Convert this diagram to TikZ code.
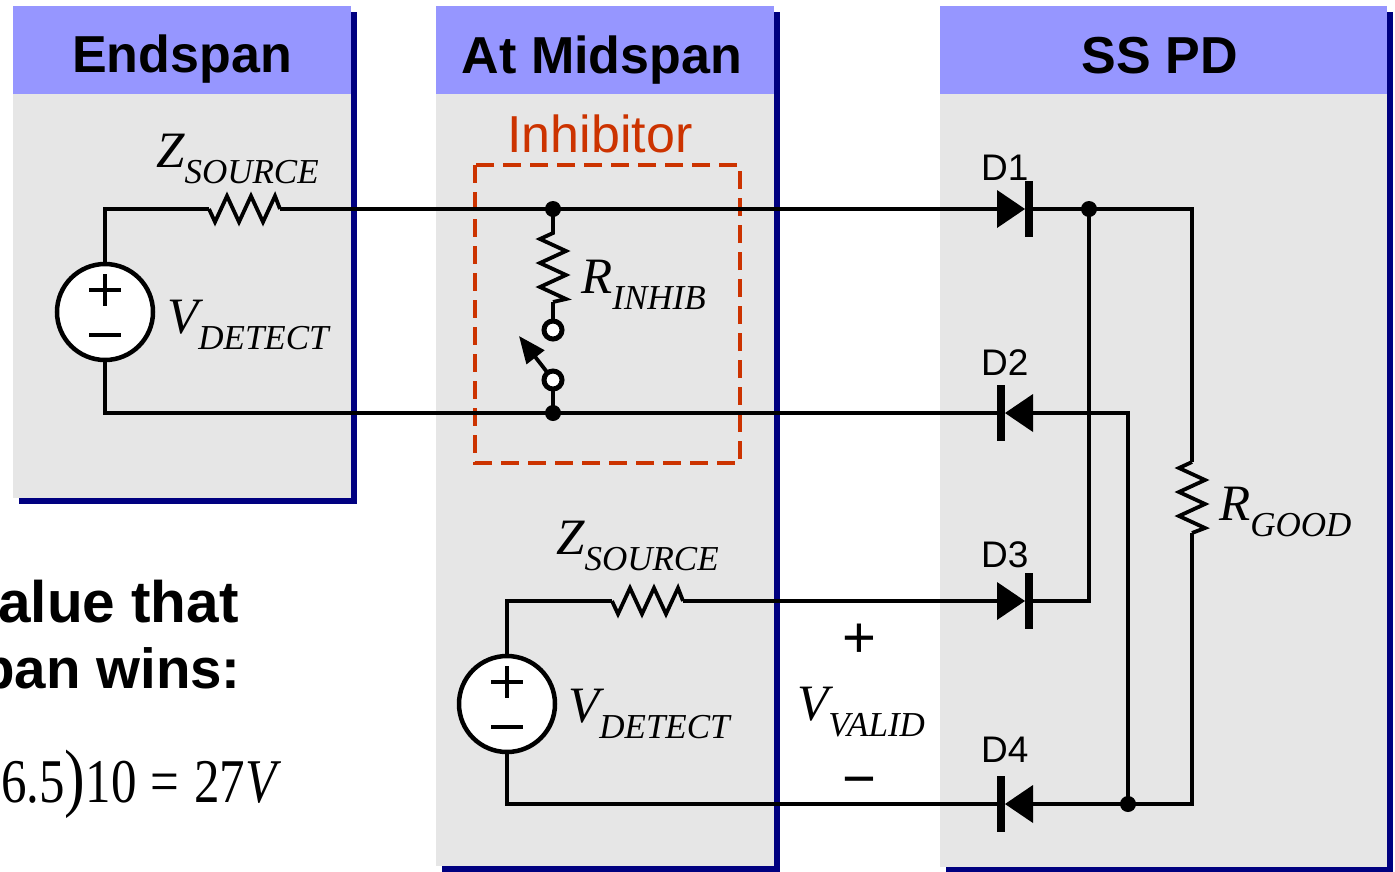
\documentclass[tikz,border=0pt]{standalone}
\usepackage{fontspec}
\setmainfont{Liberation Sans}
\newfontfamily\tms{Liberation Serif}
\usetikzlibrary{arrows.meta}
\definecolor{hdr}{RGB}{150,150,255}
\definecolor{pnl}{RGB}{230,230,230}
\definecolor{shd}{RGB}{0,0,128}
\definecolor{inh}{RGB}{204,51,0}
\newcommand\fs[1]{\fontsize{#1}{#1}\selectfont}
\newcommand\lbl[2]{{\tms\itshape\fs{51}#1}{\tms\itshape\fs{35}\raisebox{-16pt}{#2}}}
\tikzset{
  wire/.style={line width=3.8pt, line join=miter, line cap=butt},
  jdot/.style={circle, fill=black, inner sep=0pt, outer sep=0pt, minimum size=16pt},
  term/.style={circle, draw=black, fill=white, line width=5pt, inner sep=0pt, outer sep=0pt, minimum size=18pt},
  vsrc/.style={circle, draw=black, fill=white, line width=4.5pt, inner sep=0pt, outer sep=0pt, minimum size=96pt},
  ttl/.style={anchor=base, inner sep=0pt, font=\bfseries\fs{52}},
  dlab/.style={anchor=base west, inner sep=0pt, font=\fs{37}},
  mlab/.style={anchor=base west, inner sep=0pt},
  diodeR/.pic={\fill[black] (-28,-19) -- (-28,19) -- (0,0) -- cycle; \fill[black] (0,-28) rectangle (8,28);},
  diodeL/.pic={\fill[black] (28,-19) -- (28,19) -- (0,0) -- cycle; \fill[black] (-8,-28) rectangle (0,28);}
}
\begin{document}
\begin{tikzpicture}[x=1pt,y=-1pt]
\useasboundingbox (0,0) rectangle (1395,871);
% panels
\fill[shd] (19,12) rectangle (357,504);
\fill[pnl] (13,6) rectangle (351,498);
\fill[hdr] (13,6) rectangle (351,94);
\fill[shd] (442,12) rectangle (780,872);
\fill[pnl] (436,6) rectangle (774,866);
\fill[hdr] (436,6) rectangle (774,94);
\fill[shd] (946,12) rectangle (1393,873);
\fill[pnl] (940,6) rectangle (1387,867);
\fill[hdr] (940,6) rectangle (1387,94);
\node[ttl] (t1) at (182,72) {Endspan};
\node[ttl] (t2) at (602,73) {At Midspan};
\node[ttl] (t3) at (1160,73) {SS PD};

% nodes and coordinates
\node[vsrc] (src1) at (105,312) {};
\node[vsrc] (src2) at (507,704) {};
\coordinate (zs1a) at (209,209);
\coordinate (zs1b) at (280,209);
\coordinate (zs2a) at (612,601);
\coordinate (zs2b) at (683,601);
\coordinate (ria) at (553,233);
\coordinate (rib) at (553,302);
\coordinate (rga) at (1192,462);
\coordinate (rgb) at (1192,533);
\coordinate (d1a) at (997,209);
\coordinate (d1k) at (1033,209);
\coordinate (d2k) at (997,413);
\coordinate (d2a) at (1033,413);
\coordinate (d3a) at (997,601);
\coordinate (d3k) at (1033,601);
\coordinate (d4k) at (997,804);
\coordinate (d4a) at (1033,804);
\coordinate (swtip) at (519,336);

% inhibitor box
\draw[inh, line width=3.5pt, dash pattern=on 18pt off 9pt] (475,165) rectangle (740,463);
\node[anchor=base, inner sep=0pt, text=inh, font=\fs{52}] (linh) at (600,152) {Inhibitor};

% wires
\draw[wire] (src1.north) |- (zs1a);
\draw[wire] (zs1a) -- ++(6,13) -- ++(12,-26) -- ++(12,26) -- ++(12,-26) -- ++(12,26) -- ++(12,-26) -- (zs1b);
\draw[wire] (zs1b) -- (d1a);
\draw[wire] (src1.south) |- (d2k);
\draw[wire] (src2.north) |- (zs2a);
\draw[wire] (zs2a) -- ++(6,13) -- ++(12,-26) -- ++(12,26) -- ++(12,-26) -- ++(12,26) -- ++(12,-26) -- (zs2b);
\draw[wire] (zs2b) -- (d3a);
\draw[wire] (src2.south) |- (d4k);
\coordinate (j1c) at (553,209);
\coordinate (j2c) at (553,413);
\coordinate (j3c) at (1089,209);
\coordinate (j4c) at (1128,804);
\draw[wire] (j1c) -- (ria) -- ++(-13,6) -- ++(26,12) -- ++(-26,12) -- ++(26,12) -- ++(-26,12) -- ++(26,12) -- (rib);
\node[term] (sw1) at (553,330) {};
\node[term] (sw2) at (553,380) {};
\draw[wire] (rib) -- (sw1.north);
\draw[wire] (sw2.south) -- (j2c);
\draw[wire, -{Triangle[length=27pt,width=22pt]}] (sw2.127) -- (swtip);
\draw[wire] (d1k) -- (j3c) -| (rga);
\draw[wire] (rga) -- ++(-13,6) -- ++(26,12) -- ++(-26,12) -- ++(26,12) -- ++(-26,12) -- ++(26,12) -- (rgb);
\draw[wire] (rgb) |- (j4c);
\draw[wire] (j4c) -- (d4a);
\draw[wire] (d2a) -| (j4c);
\draw[wire] (d3k) -| (j3c);
\node[jdot] (j1) at (j1c) {};
\node[jdot] (j2) at (j2c) {};
\node[jdot] (j3) at (j3c) {};
\node[jdot] (j4) at (j4c) {};
% diodes
\pic at (1025,209) {diodeR};
\pic at (1005,413) {diodeL};
\pic at (1025,601) {diodeR};
\pic at (1005,804) {diodeL};
% source signs
\draw[line width=4.5pt] ([xshift=-16pt,yshift=22pt]src1.center) -- ++(32,0);
\draw[line width=4.5pt] ([yshift=38pt]src1.center) -- ++(0,32);
\draw[line width=4.5pt] ([xshift=-16pt,yshift=-23pt]src1.center) -- ++(32,0);
\draw[line width=4.5pt] ([xshift=-16pt,yshift=22pt]src2.center) -- ++(32,0);
\draw[line width=4.5pt] ([yshift=38pt]src2.center) -- ++(0,32);
\draw[line width=4.5pt] ([xshift=-16pt,yshift=-23pt]src2.center) -- ++(32,0);

% labels
\node[mlab] (lz1) at (156,167) {\lbl{Z}{SOURCE}};
\node[mlab] (lv1) at (167,333) {\lbl{V}{DETECT}};
\node[mlab] (lri) at (581,293) {\lbl{R}{INHIB}};
\node[mlab] (lrg) at (1219,520) {\lbl{R}{GOOD}};
\node[mlab] (lz2) at (556,554) {\lbl{Z}{SOURCE}};
\node[mlab] (lv2) at (568,722) {\lbl{V}{DETECT}};
\node[mlab] (lvv) at (797,720) {\lbl{V}{VALID}};
\node[inner sep=0pt, font=\fs{58}] (vp) at (859,641) {+};
\node[inner sep=0pt, font=\fs{58}] (vm) at (859,788) {−};
\node[dlab] (ld1) at (981,180) {D1};
\node[dlab] (ld2) at (981,375) {D2};
\node[dlab] (ld3) at (981,567) {D3};
\node[dlab] (ld4) at (981,762) {D4};

% clipped text at bottom-left
\begin{scope}
\clip (0,0) rectangle (1395,871);
\node[anchor=base east, inner sep=0pt, font=\bfseries\fs{58.5}] (tx1) at (239,622) {value that};
\node[anchor=base east, inner sep=0pt, font=\bfseries\fs{56.5}] (tx2) at (241,688) {pan wins:};
\node[anchor=base west, inner sep=0pt] (eq) at (1,802) {\scalebox{1}[1.22]{\tms\fs{51}6.5{\fs{62})}10\hspace{14pt}=\hspace{15pt}27\textit{V}}};
\end{scope}
\end{tikzpicture}
\end{document}
